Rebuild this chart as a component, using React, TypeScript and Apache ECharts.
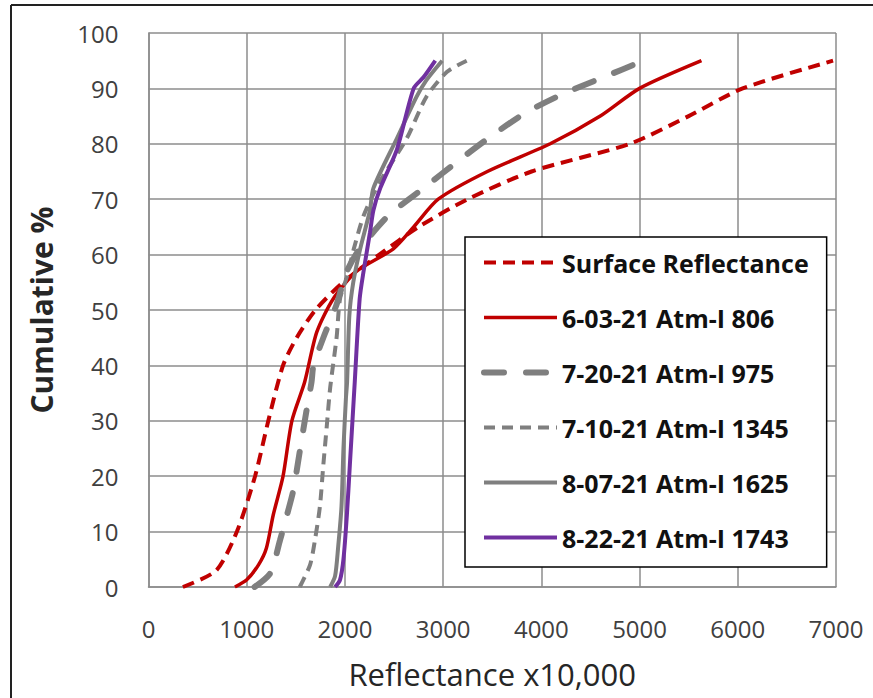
import React, { useEffect, useRef } from "react";
import * as echarts from "echarts";

const seriesNames = [
  "Surface Reflectance",
  "6-03-21 Atm-I 806",
  "7-20-21 Atm-I 975",
  "7-10-21 Atm-I 1345",
  "8-07-21 Atm-I 1625",
  "8-22-21 Atm-I 1743",
];

const surfaceX = [350, 690, 900, 1085, 1220, 1370, 1509, 1700, 1980, 2350, 2750, 3250, 3900, 4900, 5500, 6050, 6970];
const surfaceY = [0, 3, 10, 20, 30, 40, 45, 50, 55, 60, 65, 70, 75, 80, 85, 90, 95];

const atm806X = [880, 1000, 1120, 1200, 1270, 1370, 1460, 1590, 1713, 1880, 2120, 2490, 2700, 2950, 3450, 4090, 4600, 5000, 5630];
const atm806Y = [0, 1.3, 4, 7, 13, 20, 30, 37, 46, 52, 57, 61, 65, 70, 75, 80, 85, 90, 95];

const atm975X = [1080, 1240, 1340, 1410, 1475, 1545, 1610, 1660, 1680, 1780, 1915, 2020, 2150, 2440, 2800, 3160, 3460, 3830, 4220, 4630, 5040];
const atm975Y = [0, 2.5, 8.5, 13, 17.5, 25, 32, 37, 40, 45, 51, 57, 61, 67, 72, 77, 81, 85.5, 89, 92, 95];

const atm1345X = [1540, 1645, 1695, 1745, 1780, 1815, 1850, 1915, 1950, 2020, 2090, 2190, 2350, 2630, 2830, 3040, 3240];
const atm1345Y = [0, 4, 8.5, 14.5, 22, 29, 36, 45, 52, 56, 61, 67, 73, 81, 88.5, 93, 95];

const atm1625X = [1850, 1900, 1930, 1965, 1985, 2010, 2022, 2045, 2085, 2155, 2255, 2290, 2530, 2730, 2830, 2990];
const atm1625Y = [0, 2, 7, 14.5, 25, 34, 37, 49, 55, 61, 68, 72, 81, 88.5, 91.5, 95];

const atm1743X = [1900, 1950, 1985, 2020, 2050, 2090, 2100, 2150, 2190, 2255, 2290, 2360, 2530, 2700, 2800, 2920];
const atm1743Y = [0, 1.3, 5, 13, 22, 34, 37, 52, 57, 64, 68, 72, 79, 90, 92, 95];

const xTickLabels = ["0", "1000", "2000", "3000", "4000", "5000", "6000", "7000"];
const yTickLabels = ["0", "10", "20", "30", "40", "50", "60", "70", "80", "90", "100"];

const zip = (xs: number[], ys: number[]) => xs.map((x, i) => [x, ys[i]]);

const FONT = "'Open Sans', 'Noto Sans', sans-serif";

export default function App() {
  const ref = useRef<HTMLDivElement>(null);
  useEffect(() => {
    if (!ref.current) return;
    const chart = echarts.init(ref.current, null, { renderer: "svg" });
    const RED = "#C00000";
    const GRAY = "#7F7F7F";
    const PURPLE = "#7030A0";
    const styles: any[] = [
      { color: RED, width: 4, type: [12, 7], cap: "butt" },
      { color: RED, width: 3.5, type: "solid", cap: "butt" },
      { color: GRAY, width: 6, type: [20, 22], cap: "round" },
      { color: GRAY, width: 4, type: [11, 7], cap: "butt" },
      { color: GRAY, width: 4, type: "solid", cap: "butt" },
      { color: PURPLE, width: 4, type: "solid", cap: "butt" },
    ];
    const datasets = [
      zip(surfaceX, surfaceY),
      zip(atm806X, atm806Y),
      zip(atm975X, atm975Y),
      zip(atm1345X, atm1345Y),
      zip(atm1625X, atm1625Y),
      zip(atm1743X, atm1743Y),
    ];
    chart.setOption({
      animation: false,
      backgroundColor: "#ffffff",
      grid: { left: 148.5, top: 33, right: 37, bottom: 111, show: false },
      xAxis: {
        type: "value",
        min: 0,
        max: 7000,
        interval: 1000,
        name: "Reflectance x10,000",
        nameLocation: "middle",
        nameGap: 71,
        nameTextStyle: { fontFamily: FONT, fontSize: 31, color: "#262626" },
        axisLine: { show: true, lineStyle: { color: "#8C8C8C", width: 1.5 } },
        axisTick: { show: false },
        splitLine: { show: true, lineStyle: { color: "#8C8C8C", width: 1.5 } },
        axisLabel: {
          margin: 29,
          fontFamily: FONT,
          fontSize: 24,
          color: "#404040",
          formatter: (v: number) => xTickLabels[Math.round(v / 1000)] ?? "",
        },
      },
      yAxis: {
        type: "value",
        min: 0,
        max: 100,
        interval: 10,
        name: "Cumulative %",
        nameLocation: "middle",
        nameGap: 92,
        nameRotate: 90,
        nameTextStyle: { fontFamily: FONT, fontSize: 30, fontWeight: "bold", color: "#262626" },
        axisLine: { show: true, lineStyle: { color: "#8C8C8C", width: 1.5 } },
        axisTick: { show: false },
        splitLine: { show: true, lineStyle: { color: "#8C8C8C", width: 1.5 } },
        axisLabel: {
          margin: 30,
          fontFamily: FONT,
          fontSize: 24,
          color: "#404040",
          formatter: (v: number) => yTickLabels[Math.round(v / 10)] ?? "",
        },
      },
      legend: {
        orient: "vertical",
        left: 465,
        top: 237,
        backgroundColor: "#ffffff",
        borderColor: "#000000",
        borderWidth: 1.5,
        padding: [13, 18, 17, 16],
        itemWidth: 73,
        itemHeight: 14,
        itemGap: 30,
        itemStyle: { opacity: 0, borderWidth: 0 },
        textStyle: { fontFamily: FONT, fontSize: 25, fontWeight: "bold", color: "#111111" },
        data: seriesNames.map((name, i) => ({
          name,
          itemStyle: { opacity: 0, borderWidth: 0 },
          lineStyle: { ...styles[i] },
        })),
      },
      graphic: [
        { type: "line", shape: { x1: 11, y1: 5, x2: 873, y2: 5 }, style: { stroke: "#222", lineWidth: 2 } },
        { type: "line", shape: { x1: 11, y1: 5, x2: 11, y2: 698 }, style: { stroke: "#222", lineWidth: 2 } },
      ],
      series: seriesNames.map((name, i) => ({
        name,
        type: "line",
        data: datasets[i],
        showSymbol: false,
        symbol: "none",
        smooth: 0.25,
        lineStyle: { ...styles[i] },
        itemStyle: { color: styles[i].color },
      })),
    });
    return () => chart.dispose();
  }, []);
  return <div ref={ref} style={{ width: 873, height: 698, position: "absolute", left: 0, top: 0 }} />;
}
